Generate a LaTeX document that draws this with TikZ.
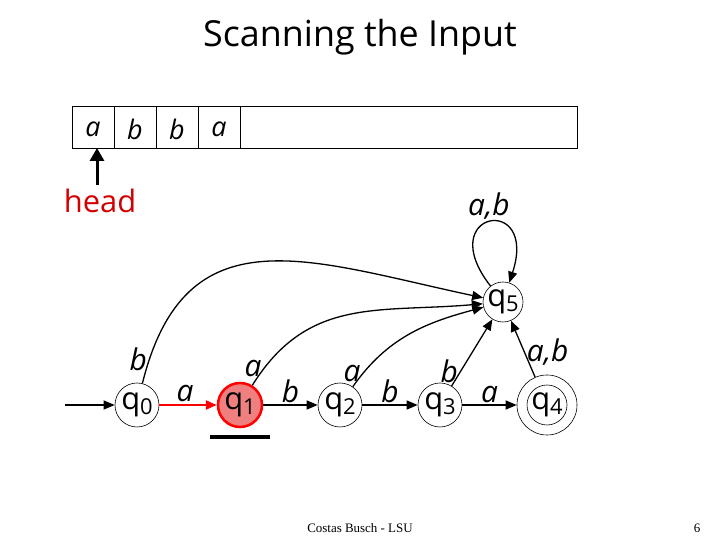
\documentclass[tikz,border=0pt]{standalone}
\usepackage{fontspec}
\setmainfont{Liberation Serif}
\newfontfamily\comic{Open Sans}
\usepackage{tkz-euclide}
\usetikzlibrary{arrows.meta}
\definecolor{headred}{RGB}{210,0,0}
\definecolor{statered}{RGB}{240,128,128}
\newcommand\qsub[1]{q\raisebox{-5bp}{\fontsize{22}{22}\selectfont#1}}
\tikzset{
  state/.style={circle,draw,line width=0.6bp,minimum size=44bp,inner sep=0pt,
    font=\comic\fontsize{31}{31}\selectfont},
  trans/.style={line width=1.3bp,-{Triangle[length=11bp,width=9bp]}},
  lbl/.style={font=\comic\fontsize{30}{30}\selectfont\itshape,inner sep=2bp},
}

\begin{document}
\begin{tikzpicture}[x=1bp,y=1bp]
            \useasboundingbox (0,0) rectangle (720,540);
            \tkzDefPoints{137/135/P0,240/135/P1,340/135/P2,440/135/P3,547/135/P4,503/238/P5}
            \tkzDefPoints{65/135/S,97/355/H,97/392/T,210/103/U,270/103/V}
            \node[font=\comic\fontsize{36}{36}\selectfont] (title) at (360,503) {Scanning the Input};
            \draw[line width=0.8bp] (72,392) rectangle (577,434);
            \foreach \x in {114,156,198,240} \draw[line width=0.8bp] (\x,392) -- (\x,434);
            \foreach \x/\c [count=\i] in {93/a,135/b,177/b,219/a}
                \node[lbl,font=\comic\fontsize{27}{27}\selectfont\itshape] (c\i) at (\x,411) {\c};
            \node[font=\comic\fontsize{31}{31}\selectfont,text=headred] (head) at (100,339) {head};
            \draw[line width=3bp,-{Triangle[length=13bp,width=14bp]}] (H) -- (T);
            \node[state] (q0) at (P0) {\qsub{0}};
            \node[state,fill=statered,draw=red,line width=2.5bp] (q1) at (P1) {\qsub{1}};
            \node[state] (q2) at (P2) {\qsub{2}};
            \node[state] (q3) at (P3) {\qsub{3}};
            \node[state,minimum size=60bp] (q4) at (P4) {};
            \node[state,minimum size=40bp] (q4in) at (P4) {\qsub{4}};
            \node[state,minimum size=40bp] (q5) at (P5) {\qsub{5}};
            \draw[line width=3.5bp] (U) -- (V);
            \draw[trans] (S) -- (q0);
            \draw[trans,red,line width=2.5bp] (q0) -- node[lbl,above,black,pos=0.45] {a} (q1);
            \draw[trans] (q1) -- node[lbl,above] {b} (q2);
            \draw[trans] (q2) -- node[lbl,above] {b} (q3);
            \draw[trans] (q3) -- node[lbl,above] {a} (q4);
            \draw[trans] (q0) to[out=76,in=168,looseness=1.3] node[lbl,pos=0.05,left] {b} (q5);
            \draw[trans] (q1) to[out=58,in=185,looseness=1.1] node[lbl,pos=0.07,left] {a} (q5);
            \draw[trans] (q2) to[out=55,in=195] node[lbl,pos=0.1,left] {a} (q5);
            \draw[trans] (q3) -- node[lbl,pos=0.22,left] {b} (q5);
            \draw[trans] (q4) -- node[lbl,pos=0.45,right] {a,b} (q5);
            \draw[trans] (q5) to[out=128,in=72,distance=95bp] node[lbl,above] {a,b} (q5);
            \node[font=\fontsize{13}{13}\selectfont] (foot) at (360,12) {Costas Busch - LSU};
            \node[font=\fontsize{13}{13}\selectfont] (page) at (697,12) {6};
        \end{tikzpicture}
\end{document}
